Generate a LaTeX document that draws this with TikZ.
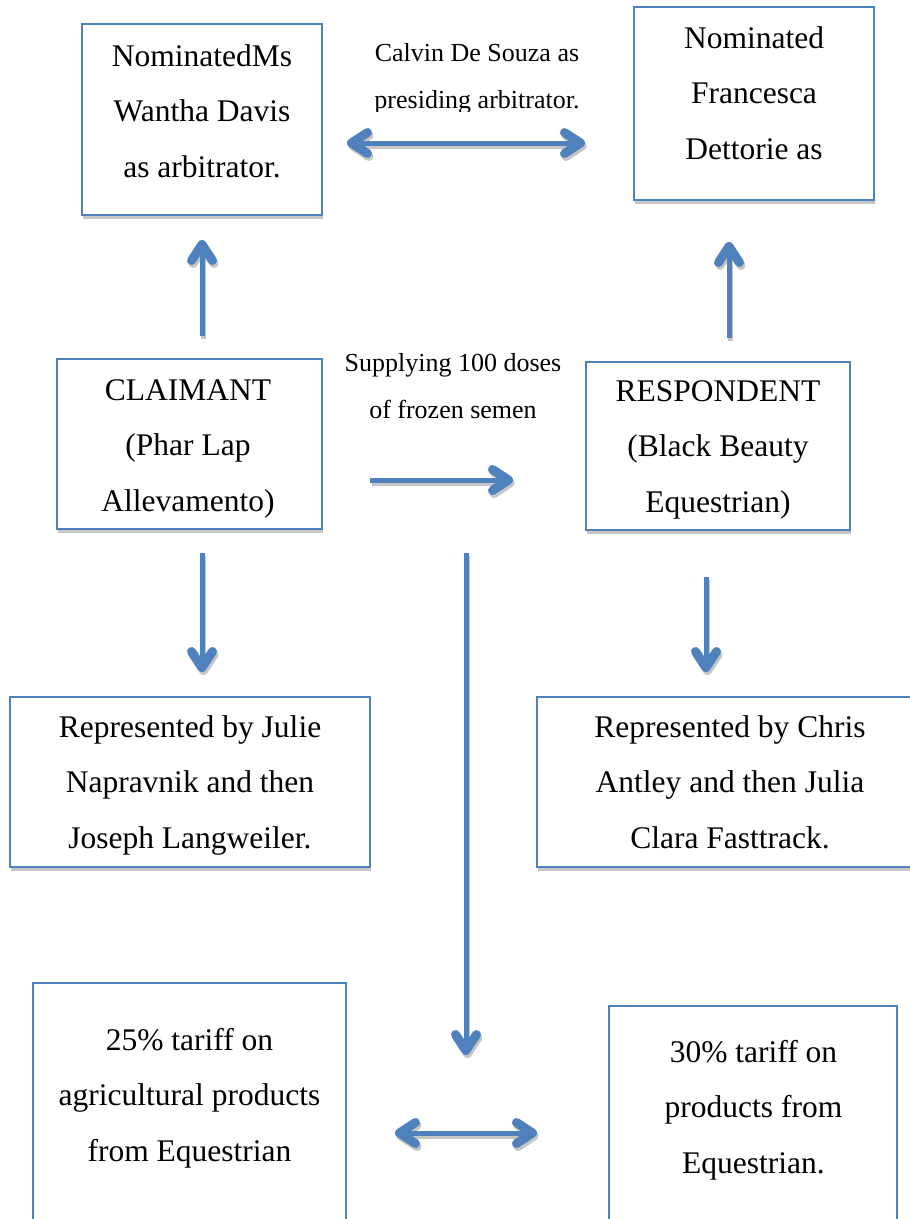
\documentclass[tikz,border=0pt]{standalone}
\usepackage{fontspec}
\setmainfont{Liberation Serif}
\usetikzlibrary{arrows.meta,shadows}
\definecolor{ablue}{HTML}{4F81BD}
\definecolor{ashadow}{HTML}{C6C6C6}
\begin{document}
\begin{tikzpicture}[x=1pt,y=-1pt,
  >={Straight Barb[length=16pt,width=21pt,round,line width=0pt 1.8]},
  box/.style={rectangle, draw=ablue, line width=1.6pt, fill=white, inner sep=0pt,
    drop shadow={shadow xshift=1pt, shadow yshift=-4pt, fill=ashadow, opacity=1}},
  txt/.style={font=\fontsize{31.5}{55.5}\selectfont, align=center, anchor=base, inner sep=0pt},
  lbl/.style={font=\fontsize{26}{47}\selectfont, align=center, anchor=base, inner sep=0pt},
  conn/.style={draw=ablue, line width=5pt, line cap=butt},
  connsh/.style={draw=ashadow, line width=5pt, line cap=butt, transform canvas={xshift=1.5pt,yshift=-3pt}}
]
\clip (0,0) rectangle (910,1219);
\fill[white] (0,0) rectangle (910,1219);

% boxes
\node[box, minimum width=240pt, minimum height=191pt] (arbL) at (202,119.5) {};
\node[box, minimum width=240pt, minimum height=193pt] (arbR) at (754,103.5) {};
\node[box, minimum width=265pt, minimum height=170pt] (claim) at (189.5,444) {};
\node[box, minimum width=264pt, minimum height=168pt] (resp) at (718,446) {};
\node[box, minimum width=360pt, minimum height=170pt] (repL) at (190,782) {};
\node[box, minimum width=386pt, minimum height=170pt] (repR) at (730,782) {};
\node[box, minimum width=313pt, minimum height=280pt] (tarL) at (189.5,1123) {};
\node[box, minimum width=288pt, minimum height=260pt] (tarR) at (753,1136) {};

% box texts (anchored at the baseline of the last line)
\node[txt] (tArbL) at (202,177) {NominatedMs\\Wantha Davis\\as arbitrator.};
\node[txt] (tArbR) at (754,159) {Nominated\\Francesca\\Dettorie as};
\node[txt] (tClaim) at (188,511) {CLAIMANT\\(Phar Lap\\Allevamento)};
\node[txt] (tResp) at (718,512) {RESPONDENT\\(Black Beauty\\Equestrian)};
\node[txt] (tRepL) at (190,848) {Represented by Julie\\Napravnik and then\\Joseph Langweiler.};
\node[txt] (tRepR) at (730,848) {Represented by Chris\\Antley and then Julia\\Clara Fasttrack.};
\node[txt] (tTarL) at (189.5,1161) {25\%\ tariff on\\agricultural products\\from Equestrian};
\node[txt] (tTarR) at (753.5,1173) {30\%\ tariff on\\products from\\Equestrian.};

% labels
\begin{scope}
  \clip (330,0) rectangle (630,111);
  \node[lbl] (lCalvin) at (477,108) {Calvin De Souza as\\presiding arbitrator.};
\end{scope}
\node[lbl] (lSupply) at (453,418) {Supplying 100 doses\\of frozen semen};

% connector end points
\coordinate (a1s) at (347,143); \coordinate (a1e) at (585,143);
\coordinate (a2s) at (202,336); \coordinate (a2e) at (202,240);
\coordinate (a3s) at (729,338); \coordinate (a3e) at (729,242);
\coordinate (a4s) at (370,480); \coordinate (a4e) at (513,480);
\coordinate (a5s) at (202,553); \coordinate (a5e) at (202,672);
\coordinate (a6s) at (706,577); \coordinate (a6e) at (706,672);
\coordinate (a7s) at (466,553); \coordinate (a7e) at (466,1055);
\coordinate (a8s) at (395,1133); \coordinate (a8e) at (537,1133);

% shadows of connectors
\draw[connsh, <->] (a1s) -- (a1e);
\draw[connsh, ->] (a2s) -- (a2e);
\draw[connsh, ->] (a3s) -- (a3e);
\draw[connsh, ->] (a4s) -- (a4e);
\draw[connsh, ->] (a5s) -- (a5e);
\draw[connsh, ->] (a6s) -- (a6e);
\draw[connsh, ->] (a7s) -- (a7e);
\draw[connsh, <->] (a8s) -- (a8e);

% connectors
\draw[conn, <->] (a1s) -- (a1e);
\draw[conn, ->] (a2s) -- (a2e);
\draw[conn, ->] (a3s) -- (a3e);
\draw[conn, ->] (a4s) -- (a4e);
\draw[conn, ->] (a5s) -- (a5e);
\draw[conn, ->] (a6s) -- (a6e);
\draw[conn, ->] (a7s) -- (a7e);
\draw[conn, <->] (a8s) -- (a8e);
\end{tikzpicture}
\end{document}
